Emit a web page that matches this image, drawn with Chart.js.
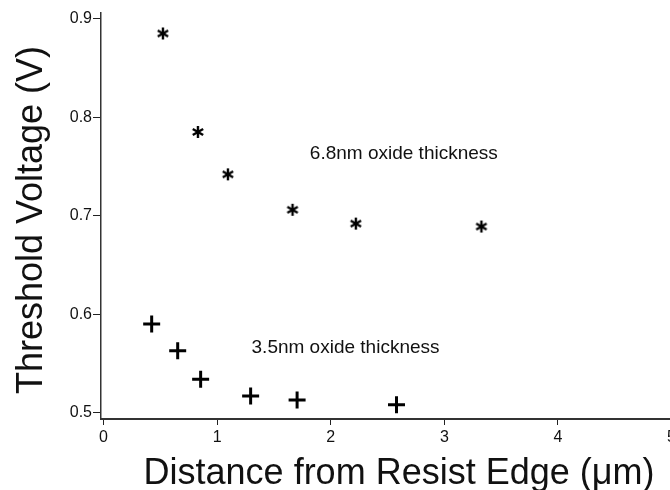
<!DOCTYPE html>
<html>
<head>
<meta charset="utf-8">
<title>Threshold Voltage vs Distance from Resist Edge</title>
<script src="https://cdn.jsdelivr.net/npm/chart.js@4.4.1/dist/chart.umd.min.js"></script>
<style>
    html, body { margin: 0; padding: 0; background: #fff; }
    #wrap { width: 670px; height: 490px; overflow: hidden; }
</style>
</head>
<body>
<div id="wrap"><canvas id="vtChart" width="700" height="490"></canvas></div>
<script>
    // values
    var thickX = [0.523, 0.831, 1.095, 1.664, 2.221, 3.326];
    var thickY = [0.885, 0.785, 0.742, 0.706, 0.692, 0.689];
    var thinX = [0.424, 0.653, 0.855, 1.295, 1.704, 2.579];
    var thinY = [0.590, 0.563, 0.534, 0.517, 0.513, 0.508];
    var xTicks = [0, 1, 2, 3, 4, 5];
    var yTicks = [0.5, 0.6, 0.7, 0.8, 0.9];
    var thickLabel = "6.8nm oxide thickness";
    var thinLabel = "3.5nm oxide thickness";
    var xTitle = "Distance from Resist Edge (\u03bcm)";
    var yTitle = "Threshold Voltage (V)";

    var FONT = '"Liberation Sans", Arial, Helvetica, sans-serif';

    function toPoints(xs, ys) {
        return xs.map(function (x, i) { return { x: x, y: ys[i] }; });
    }

    // six-armed asterisk used as the point style
    function makeStar() {
        var c = document.createElement('canvas');
        c.width = 16;
        c.height = 16;
        var ctx = c.getContext('2d');
        ctx.strokeStyle = '#000';
        ctx.lineWidth = 2.4;
        ctx.lineCap = 'butt';
        var r = 6;
        [90, 30, 150].forEach(function (deg) {
            var a = deg * Math.PI / 180;
            ctx.beginPath();
            ctx.moveTo(8 - r * Math.cos(a), 8 - r * Math.sin(a));
            ctx.lineTo(8 + r * Math.cos(a), 8 + r * Math.sin(a));
            ctx.stroke();
        });
        return c;
    }

    var textPlugin = {
        id: 'textPlugin',
        afterDraw: function (chart) {
            var ctx = chart.ctx;
            var xs = chart.scales.x;
            var ys = chart.scales.y;
            ctx.save();
            ctx.fillStyle = '#111';
            ctx.font = '19px ' + FONT;
            ctx.textAlign = 'left';
            ctx.textBaseline = 'middle';
            ctx.fillText(thickLabel, xs.getPixelForValue(1.816), ys.getPixelForValue(0.763));
            ctx.fillText(thinLabel, xs.getPixelForValue(1.303), ys.getPixelForValue(0.566));

            ctx.font = '36px ' + FONT;
            ctx.textAlign = 'center';
            ctx.textBaseline = 'alphabetic';
            ctx.fillText(xTitle, 399, 484);

            ctx.translate(42, 220);
            ctx.rotate(-Math.PI / 2);
            ctx.fillText(yTitle, 0, 0);
            ctx.restore();
        }
    };

    var ctx = document.getElementById('vtChart').getContext('2d');
    new Chart(ctx, {
        type: 'scatter',
        data: {
            datasets: [{
                label: thickLabel,
                data: toPoints(thickX, thickY),
                pointStyle: makeStar(),
                pointRadius: 8
            }, {
                label: thinLabel,
                data: toPoints(thinX, thinY),
                pointStyle: 'cross',
                pointRadius: 8.5,
                borderColor: '#000',
                backgroundColor: '#000',
                borderWidth: 3
            }]
        },
        options: {
            responsive: false,
            animation: false,
            events: [],
            layout: { padding: { top: 13, right: 0, left: 0, bottom: 0 } },
            plugins: {
                legend: { display: false },
                tooltip: { enabled: false }
            },
            scales: {
                x: {
                    type: 'linear',
                    min: -0.022,
                    max: 5.149,
                    afterFit: function (scale) {
                        scale.height = 71;
                        scale.paddingLeft = 0;
                        scale.paddingRight = 0;
                    },
                    afterBuildTicks: function (scale) {
                        scale.ticks = xTicks.map(function (v) { return { value: v }; });
                    },
                    grid: { drawOnChartArea: false, drawTicks: true, tickLength: 6, color: '#222', lineWidth: 1 },
                    border: { display: true, color: '#333', width: 2 },
                    ticks: {
                        color: '#111',
                        padding: 3,
                        maxRotation: 0,
                        font: { family: FONT, size: 16 },
                        callback: function (v) { return String(v); }
                    }
                },
                y: {
                    type: 'linear',
                    min: 0.4936,
                    max: 0.9058,
                    afterFit: function (scale) { scale.width = 101; },
                    afterBuildTicks: function (scale) {
                        scale.ticks = yTicks.map(function (v) { return { value: v }; });
                    },
                    grid: { drawOnChartArea: false, drawTicks: true, tickLength: 8, color: '#222', lineWidth: 1 },
                    border: { display: true, color: '#333', width: 1.5 },
                    ticks: {
                        color: '#111',
                        padding: 1,
                        font: { family: FONT, size: 16 },
                        callback: function (v) { return v.toFixed(1); }
                    }
                }
            }
        },
        plugins: [textPlugin]
    });
</script>
</body>
</html>
